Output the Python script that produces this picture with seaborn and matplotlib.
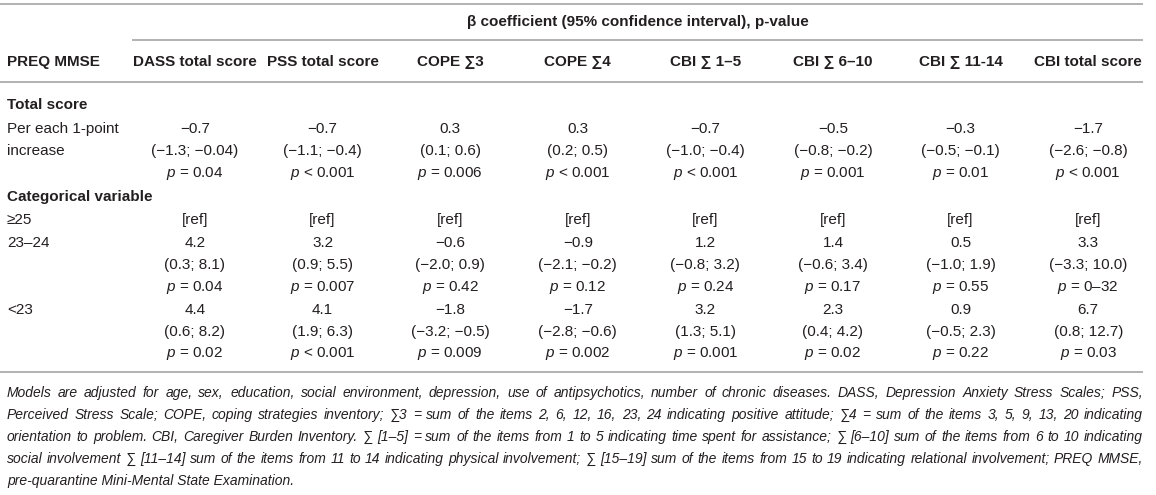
import matplotlib
matplotlib.use("Agg")
import matplotlib.pyplot as plt
import seaborn as sns

# Style
sns.set_theme(style="white")
plt.rcParams["font.family"] = ["Liberation Sans", "DejaVu Sans"]
plt.rcParams["mathtext.fontset"] = "custom"
plt.rcParams["mathtext.rm"] = "Liberation Sans"
plt.rcParams["mathtext.it"] = "Liberation Sans:italic"
plt.rcParams["mathtext.bf"] = "Liberation Sans:bold"

# Table content
group_title = "β coefficient (95% confidence interval), p-value"
row_header = "PREQ MMSE"
columns = ["DASS total score", "PSS total score", "COPE ∑3", "COPE ∑4",
           "CBI ∑ 1–5", "CBI ∑ 6–10", "CBI ∑ 11-14", "CBI total score"]
sections = ["Total score", "Categorical variable"]
row_labels = ["Per each 1-point", "increase", "≥25", "23–24", "<23"]

per_point_beta = ["−0.7", "−0.7", "0.3", "0.3", "−0.7", "−0.5", "−0.3", "−1.7"]
per_point_ci = ["(−1.3; −0.04)", "(−1.1; −0.4)", "(0.1; 0.6)", "(0.2; 0.5)",
                "(−1.0; −0.4)", "(−0.8; −0.2)", "(−0.5; −0.1)", "(−2.6; −0.8)"]
per_point_p = ["= 0.04", "< 0.001", "= 0.006", "< 0.001",
               "< 0.001", "= 0.001", "= 0.01", "< 0.001"]

ref_row = ["[ref]"] * 8

cat_23_24_beta = ["4.2", "3.2", "−0.6", "−0.9", "1.2", "1.4", "0.5", "3.3"]
cat_23_24_ci = ["(0.3; 8.1)", "(0.9; 5.5)", "(−2.0; 0.9)", "(−2.1; −0.2)",
                "(−0.8; 3.2)", "(−0.6; 3.4)", "(−1.0; 1.9)", "(−3.3; 10.0)"]
cat_23_24_p = ["= 0.04", "= 0.007", "= 0.42", "= 0.12",
               "= 0.24", "= 0.17", "= 0.55", "= 0–32"]

cat_lt23_beta = ["4.4", "4.1", "−1.8", "−1.7", "3.2", "2.3", "0.9", "6.7"]
cat_lt23_ci = ["(0.6; 8.2)", "(1.9; 6.3)", "(−3.2; −0.5)", "(−2.8; −0.6)",
               "(1.3; 5.1)", "(0.4; 4.2)", "(−0.5; 2.3)", "(0.8; 12.7)"]
cat_lt23_p = ["= 0.02", "< 0.001", "= 0.009", "= 0.002",
              "= 0.001", "= 0.02", "= 0.22", "= 0.03"]

footnote = [
    "Models are adjusted for age, sex, education, social environment, depression, use of antipsychotics, number of chronic diseases. DASS, Depression Anxiety Stress Scales; PSS,",
    "Perceived Stress Scale; COPE, coping strategies inventory; ∑3 = sum of the items 2, 6, 12, 16, 23, 24 indicating positive attitude; ∑4 = sum of the items 3, 5, 9, 13, 20 indicating",
    "orientation to problem. CBI, Caregiver Burden Inventory. ∑ [1–5] = sum of the items from 1 to 5 indicating time spent for assistance; ∑ [6–10] sum of the items from 6 to 10 indicating",
    "social involvement ∑ [11–14] sum of the items from 11 to 14 indicating physical involvement; ∑ [15–19] sum of the items from 15 to 19 indicating relational involvement; PREQ MMSE,",
    "pre-quarantine Mini-Mental State Examination.",
]

# Figure: one axes covering the canvas, 1 unit = 1 pixel
W, H = 1156, 495
fig = plt.figure(figsize=(W / 100, H / 100), dpi=100)
ax = fig.add_axes([0, 0, 1, 1])
ax.set_xlim(0, W)
ax.set_ylim(H, 0)
ax.axis("off")

fs = 11
fs_note = 10
txt = "#231f20"
rule = "#ababab"
left = 7
right = 1143
col_x = [195 + 127.6 * i for i in range(len(columns))]

# Rules
ax.hlines(4, 0, right, color=rule, lw=1.3)
ax.hlines(40, 132, right, color=rule, lw=1.3)
ax.hlines(82, 0, right, color=rule, lw=1.3)
ax.hlines(372, 0, right, color=rule, lw=1.3)

# Header
ax.text((132 + right) / 2, 22, group_title, ha="center", va="center",
        fontsize=fs, fontweight="bold", color=txt)
ax.text(left, 62, row_header, ha="left", va="center",
        fontsize=fs, fontweight="bold", color=txt)
for x, c in zip(col_x, columns):
    ax.text(x, 62, c, ha="center", va="center", fontsize=fs,
            fontweight="bold", color=txt)

# Section labels
ax.text(left, 105, sections[0], ha="left", va="center", fontsize=fs,
        fontweight="bold", color=txt)
ax.text(left, 197, sections[1], ha="left", va="center", fontsize=fs,
        fontweight="bold", color=txt)


def cell_block(y0, beta, ci, p):
    for x, b, c, pv in zip(col_x, beta, ci, p):
        ax.text(x, y0, b, ha="center", va="center", fontsize=fs, color=txt)
        ax.text(x, y0 + 22, c, ha="center", va="center", fontsize=fs, color=txt)
        ax.text(x, y0 + 44, "$p$ " + pv, ha="center", va="center",
                fontsize=fs, color=txt)


# Rows
ax.text(left, 129, row_labels[0], ha="left", va="center", fontsize=fs, color=txt)
ax.text(left, 151, row_labels[1], ha="left", va="center", fontsize=fs, color=txt)
cell_block(129, per_point_beta, per_point_ci, per_point_p)

ax.text(left, 220, row_labels[2], ha="left", va="center", fontsize=fs, color=txt)
for x, r in zip(col_x, ref_row):
    ax.text(x, 220, r, ha="center", va="center", fontsize=fs, color=txt)

ax.text(left, 243, row_labels[3], ha="left", va="center", fontsize=fs, color=txt)
cell_block(243, cat_23_24_beta, cat_23_24_ci, cat_23_24_p)

ax.text(left, 310, row_labels[4], ha="left", va="center", fontsize=fs, color=txt)
cell_block(310, cat_lt23_beta, cat_lt23_ci, cat_lt23_p)

# Footnote, justified
fig.canvas.draw()
renderer = fig.canvas.get_renderer()
for i, line in enumerate(footnote):
    y = 393 + 22 * i
    if i == len(footnote) - 1:
        ax.text(left, y, line, ha="left", va="center", fontsize=fs_note,
                style="italic", color=txt)
        continue
    words = line.split(" ")
    items = [ax.text(0, y, w, ha="left", va="center", fontsize=fs_note,
                     style="italic", color=txt) for w in words]
    widths = [t.get_window_extent(renderer).width for t in items]
    gap = (right - left - sum(widths)) / (len(words) - 1)
    x = left
    for t, w in zip(items, widths):
        t.set_x(x)
        x += w + gap

fig.savefig("out.png", dpi=100)
